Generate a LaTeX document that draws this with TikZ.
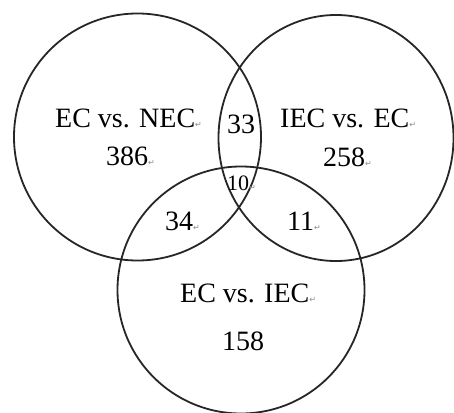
\documentclass[tikz,border=0pt]{standalone}
\usepackage{fontspec}
\setmainfont{Liberation Serif}
\newfontfamily\retfont{DejaVu Sans}
\newcommand\retmark{{\retfont\fontsize{8}{8}\selectfont\color{black!45}↵}}
\begin{document}
\begin{tikzpicture}[x=1pt,y=-1pt,
  ring/.style={draw=black!85,line width=1.8pt},
  big/.style={inner sep=0pt,anchor=base west,font=\fontsize{28}{30}\selectfont},
  small/.style={inner sep=0pt,anchor=base west,font=\fontsize{22}{24}\selectfont}]
\useasboundingbox (0,0) rectangle (454,412);
\fill[white] (0,0) rectangle (454,412);
\draw[ring] (137.5,137) circle[radius=123.5];
\draw[ring] (336,138) ellipse[x radius=117.5,y radius=123];
\draw[ring] (241,290) circle[radius=123.5];
\node[big] (ln) at (55,127) {EC vs. NEC\retmark};
\node[big] (lv) at (106,165) {386\retmark};
\node[big] (rn) at (280,127) {IEC vs. EC\retmark};
\node[big] (rv) at (323,166) {258\retmark};
\node[big] (lr) at (227,133) {33};
\node[small] (all) at (227,190) {10\retmark};
\node[big] (lb) at (165,230) {34\retmark};
\node[big] (rb) at (287,230) {11\retmark};
\node[big] (bn) at (180,302) {EC vs. IEC\retmark};
\node[big] (bv) at (222,350) {158};
\end{tikzpicture}
\end{document}
